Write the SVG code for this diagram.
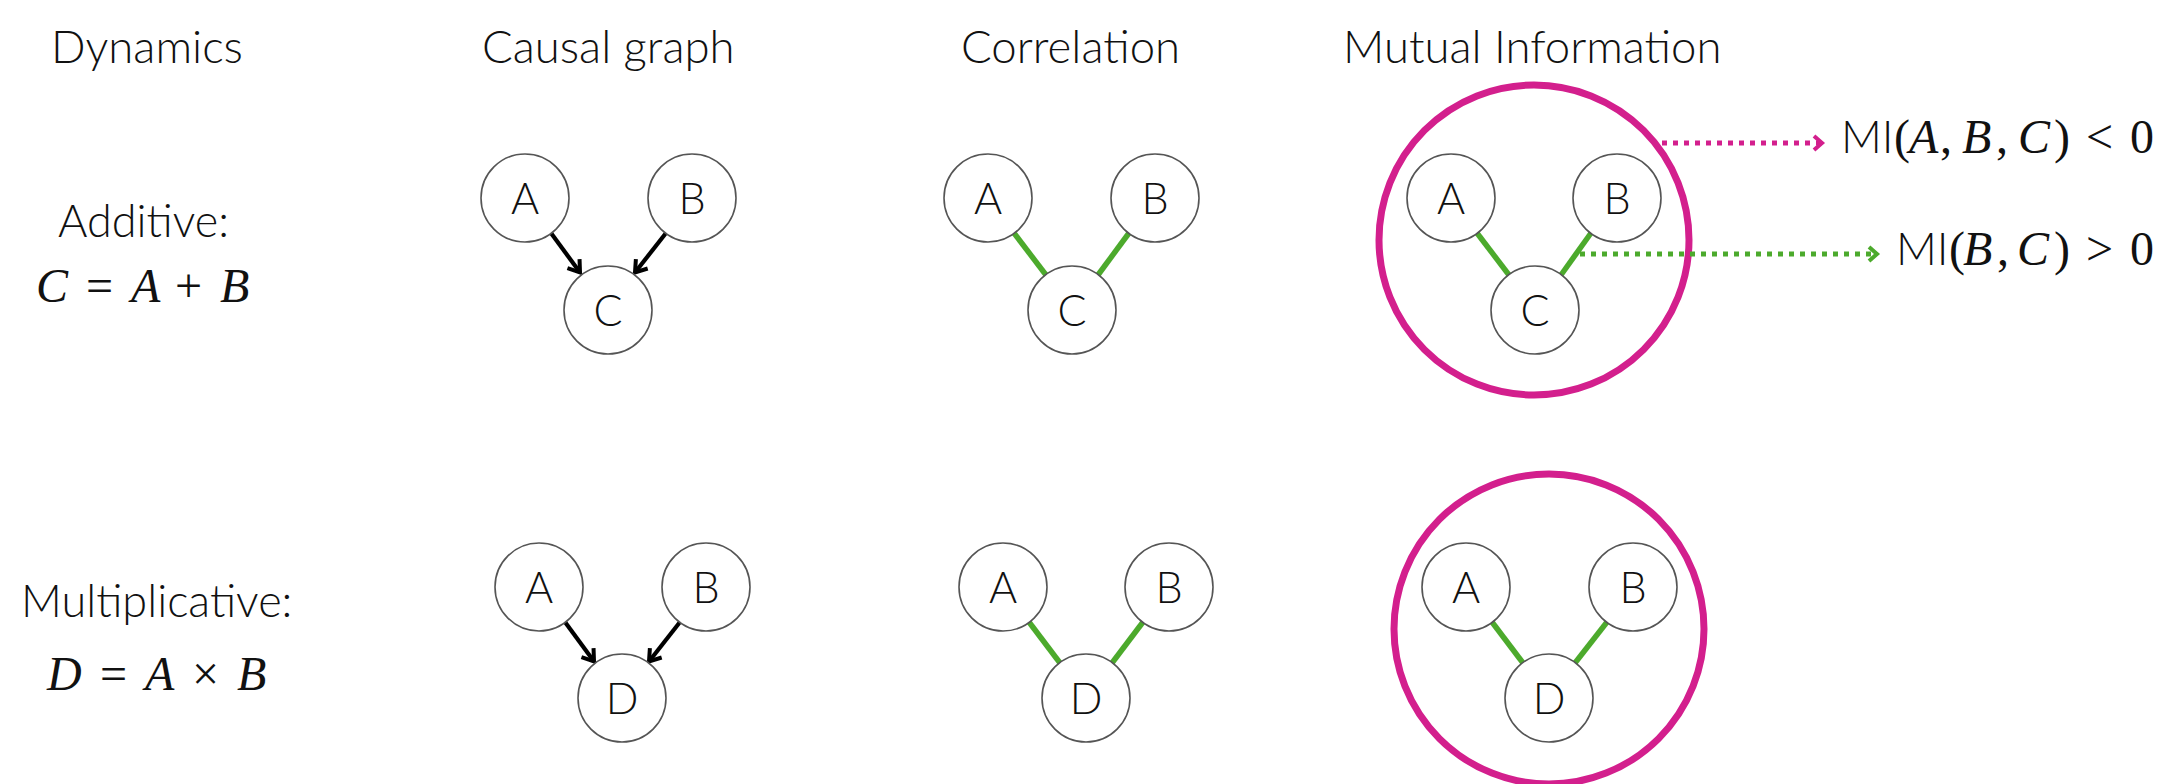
<svg xmlns="http://www.w3.org/2000/svg" width="2160" height="784" viewBox="0 0 2160 784">
  <style>
    .title { font-family: Lato, "Noto Sans", sans-serif; font-weight: 300; font-size: 45.5px; fill: #111; }
    .label { font-family: Lato, "Noto Sans", sans-serif; font-weight: 300; font-size: 45px; fill: #111; }
    .math { font-family: "Liberation Serif", "DejaVu Serif", serif; font-size: 48px; fill: #111; }
    .mi { font-family: Lato, "Noto Sans", sans-serif; font-weight: 300; font-size: 45px; }
    .it { font-style: italic; }
    .node circle { fill: #fff; stroke: #555; stroke-width: 1.6; }
    .node text { font-family: Lato, "Noto Sans", sans-serif; font-weight: 300; font-size: 43px; fill: #111; text-anchor: middle; }
    .causal { stroke: #000; stroke-width: 4.2; fill: none; marker-end: url(#arrow-black); }
    .corr { stroke: #4caa2c; stroke-width: 5.5; fill: none; }
    .ring { fill: none; stroke: #d31f8d; stroke-width: 7; }
    .dot-mag { stroke: #d31f8d; stroke-width: 5; stroke-dasharray: 5 6; fill: none; marker-end: url(#arrow-mag); }
    .dot-green { stroke: #4caa2c; stroke-width: 5; stroke-dasharray: 5 6; fill: none; marker-end: url(#arrow-green); }
  </style>
  <defs>
    <marker id="arrow-black" viewBox="0 0 20 20" refX="16" refY="10" markerWidth="20" markerHeight="20" orient="auto" markerUnits="userSpaceOnUse">
      <path d="M5,2.5 L16,10 L5,17.5" fill="none" stroke="#000" stroke-width="4"/>
    </marker>
    <marker id="arrow-mag" viewBox="0 0 18 18" refX="13" refY="9" markerWidth="18" markerHeight="18" orient="auto" markerUnits="userSpaceOnUse">
      <path d="M5,2 L13,9 L5,16" fill="none" stroke="#d31f8d" stroke-width="4"/>
    </marker>
    <marker id="arrow-green" viewBox="0 0 18 18" refX="13" refY="9" markerWidth="18" markerHeight="18" orient="auto" markerUnits="userSpaceOnUse">
      <path d="M5,2 L13,9 L5,16" fill="none" stroke="#4caa2c" stroke-width="4"/>
    </marker>
  </defs>

  <rect width="2160" height="784" fill="#fff"/>

  <!-- column headings -->
  <g id="headings">
    <text class="title" x="51" y="63">Dynamics</text>
    <text class="title" x="482" y="63">Causal graph</text>
    <text class="title" x="961" y="63">Correlation</text>
    <text class="title" x="1343" y="63">Mutual Information</text>
  </g>

  <!-- row labels -->
  <g id="row-additive">
    <text class="label" x="58" y="237">Additive:</text>
    <text class="math" y="302"><tspan class="it" x="36">C</tspan><tspan x="86">=</tspan><tspan class="it" x="131">A</tspan><tspan x="175">+</tspan><tspan class="it" x="220">B</tspan></text>
  </g>
  <g id="row-multiplicative">
    <text class="label" x="21" y="617">Multiplicative:</text>
    <text class="math" y="690"><tspan class="it" x="47">D</tspan><tspan x="100">=</tspan><tspan class="it" x="145">A</tspan><tspan x="192">×</tspan><tspan class="it" x="237">B</tspan></text>
  </g>

  <!-- mutual-information rings -->
  <g id="mi-rings">
    <ellipse class="ring" cx="1534" cy="240" rx="155" ry="155"/>
    <ellipse class="ring" cx="1549" cy="629" rx="155" ry="155"/>
  </g>

  <!-- connectors -->
  <g id="connectors">
    <!-- causal, additive -->
    <line class="causal" x1="551" y1="233" x2="580" y2="272.5"/>
    <line class="causal" x1="666" y1="233" x2="635" y2="272.5"/>
    <!-- causal, multiplicative -->
    <line class="causal" x1="565" y1="622" x2="594" y2="661.5"/>
    <line class="causal" x1="680" y1="622" x2="649" y2="661.5"/>
    <!-- correlation, additive -->
    <line class="corr" x1="1014" y1="233" x2="1046" y2="275"/>
    <line class="corr" x1="1129" y1="233" x2="1098" y2="275"/>
    <!-- correlation, multiplicative -->
    <line class="corr" x1="1029" y1="622" x2="1060" y2="663"/>
    <line class="corr" x1="1143" y1="622" x2="1112" y2="663"/>
    <!-- mutual information, additive -->
    <line class="corr" x1="1477" y1="233" x2="1509" y2="275"/>
    <line class="corr" x1="1591" y1="233" x2="1561" y2="275"/>
    <!-- mutual information, multiplicative -->
    <line class="corr" x1="1492" y1="622" x2="1523" y2="663"/>
    <line class="corr" x1="1607" y1="622" x2="1575" y2="663"/>
    <!-- annotation pointers -->
    <line class="dot-mag" x1="1662" y1="143" x2="1822" y2="143"/>
    <line class="dot-green" x1="1580" y1="254" x2="1877" y2="254"/>
  </g>

  <!-- causal graph, additive -->
  <g id="causal-add-A" class="node"><circle cx="525" cy="198" r="44"/><text x="525" y="214">A</text></g>
  <g id="causal-add-B" class="node"><circle cx="692" cy="198" r="44"/><text x="692" y="214">B</text></g>
  <g id="causal-add-C" class="node"><circle cx="608" cy="310" r="44"/><text x="608" y="326">C</text></g>

  <!-- correlation, additive -->
  <g id="corr-add-A" class="node"><circle cx="988" cy="198" r="44"/><text x="988" y="214">A</text></g>
  <g id="corr-add-B" class="node"><circle cx="1155" cy="198" r="44"/><text x="1155" y="214">B</text></g>
  <g id="corr-add-C" class="node"><circle cx="1072" cy="310" r="44"/><text x="1072" y="326">C</text></g>

  <!-- mutual information, additive -->
  <g id="mi-add-A" class="node"><circle cx="1451" cy="198" r="44"/><text x="1451" y="214">A</text></g>
  <g id="mi-add-B" class="node"><circle cx="1617" cy="198" r="44"/><text x="1617" y="214">B</text></g>
  <g id="mi-add-C" class="node"><circle cx="1535" cy="310" r="44"/><text x="1535" y="326">C</text></g>

  <!-- causal graph, multiplicative -->
  <g id="causal-mul-A" class="node"><circle cx="539" cy="587" r="44"/><text x="539" y="603">A</text></g>
  <g id="causal-mul-B" class="node"><circle cx="706" cy="587" r="44"/><text x="706" y="603">B</text></g>
  <g id="causal-mul-D" class="node"><circle cx="622" cy="698" r="44"/><text x="622" y="714">D</text></g>

  <!-- correlation, multiplicative -->
  <g id="corr-mul-A" class="node"><circle cx="1003" cy="587" r="44"/><text x="1003" y="603">A</text></g>
  <g id="corr-mul-B" class="node"><circle cx="1169" cy="587" r="44"/><text x="1169" y="603">B</text></g>
  <g id="corr-mul-D" class="node"><circle cx="1086" cy="698" r="44"/><text x="1086" y="714">D</text></g>

  <!-- mutual information, multiplicative -->
  <g id="mi-mul-A" class="node"><circle cx="1466" cy="587" r="44"/><text x="1466" y="603">A</text></g>
  <g id="mi-mul-B" class="node"><circle cx="1633" cy="587" r="44"/><text x="1633" y="603">B</text></g>
  <g id="mi-mul-D" class="node"><circle cx="1549" cy="698" r="44"/><text x="1549" y="714">D</text></g>

  <!-- mutual information annotations -->
  <g id="mi-annotations">
    <text class="math" y="153"><tspan class="mi" x="1841">MI</tspan><tspan x="1894">(</tspan><tspan class="it" x="1909">A</tspan><tspan x="1940">,</tspan><tspan class="it" x="1962">B</tspan><tspan x="1996">,</tspan><tspan class="it" x="2018">C</tspan><tspan x="2054">)</tspan><tspan x="2086">&lt;</tspan><tspan x="2130">0</tspan></text>
    <text class="math" y="265"><tspan class="mi" x="1896">MI</tspan><tspan x="1949">(</tspan><tspan class="it" x="1963">B</tspan><tspan x="1997">,</tspan><tspan class="it" x="2017">C</tspan><tspan x="2054">)</tspan><tspan x="2086">&gt;</tspan><tspan x="2130">0</tspan></text>
  </g>
</svg>
